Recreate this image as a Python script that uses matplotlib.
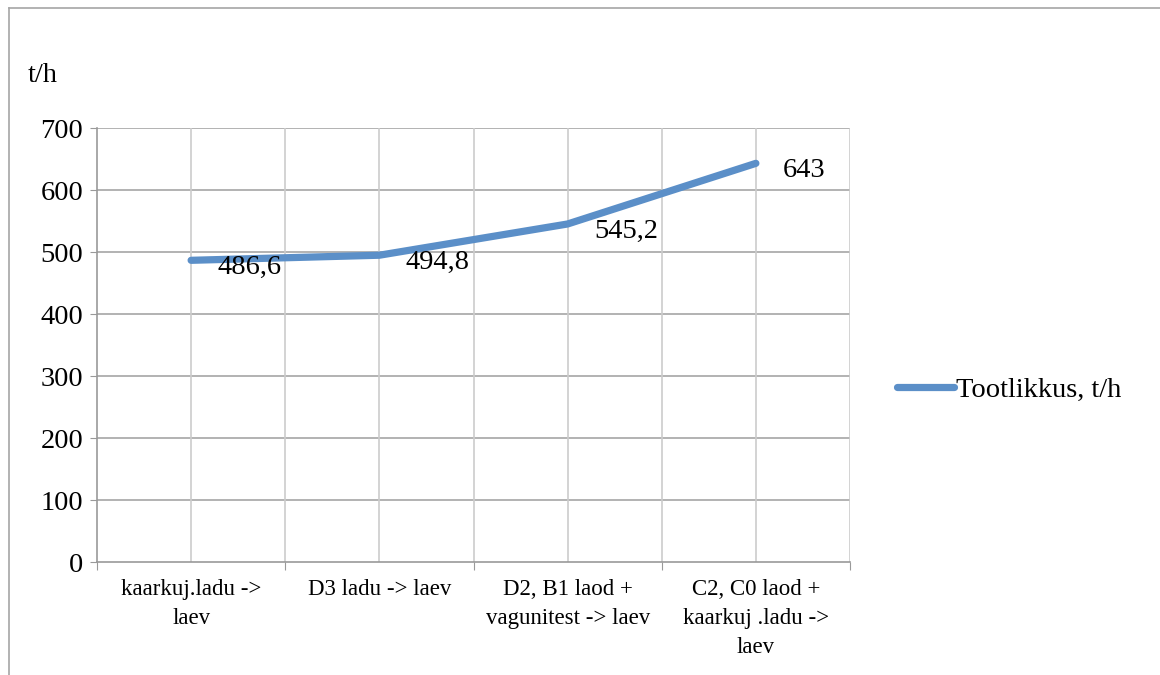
import matplotlib
matplotlib.use("Agg")
import matplotlib.pyplot as plt
from matplotlib.lines import Line2D
import numpy as np

categories = ["kaarkuj.ladu ->\nlaev", "D3 ladu -> laev",
              "D2, B1 laod +\nvagunitest -> laev",
              "C2, C0 laod +\nkaarkuj .ladu ->\nlaev"]
values = [486.6, 494.8, 545.2, 643]
value_labels = ["486,6", "494,8", "545,2", "643"]
yticks = [0, 100, 200, 300, 400, 500, 600, 700]
series_name = "Tootlikkus, t/h"

plt.rcParams['font.family'] = ['Liberation Serif', 'DejaVu Serif']

fig = plt.figure(figsize=(11.6, 6.75), dpi=100)
ax = fig.add_axes([97 / 1160, 1 - 562 / 675, 753 / 1160, 434 / 675])

blue = "#5b8fc8"
big = 20.5
x = np.arange(len(values))
ax.plot(x, values, color=blue, lw=5.2, solid_capstyle='round',
        solid_joinstyle='round', label=series_name, zorder=3)

for xi, v, t in zip(x, values, value_labels):
    ax.annotate(t, (xi, v), xytext=(19, -5), textcoords='offset points',
                ha='left', va='center', fontsize=big, zorder=4)

ax.set_xlim(-0.5, len(values) - 0.5)
ax.set_ylim(0, 700)
ax.set_yticks(yticks)
ax.tick_params(axis='y', labelsize=big, length=5, color='#999999', pad=5)

# ticks at category boundaries, labels at centres
ax.set_xticks(np.arange(-0.5, len(values), 1.0))
ax.set_xticklabels([])
ax.set_xticks(x, minor=True)
ax.set_xticklabels(categories, minor=True, fontsize=16.5, linespacing=1.5)
ax.tick_params(axis='x', which='major', length=6, color='#999999')
ax.tick_params(axis='x', which='minor', length=0, pad=12)

for yv in yticks[1:]:
    ax.axhline(yv, color='#a6a6a6', lw=1.2, zorder=1)
for xv in np.arange(-0.5, len(values), 0.5)[1:]:
    ax.axvline(xv, color='#cccccc', lw=1.2, zorder=1)

for s in ['top', 'right']:
    ax.spines[s].set_visible(False)
for s in ['left', 'bottom']:
    ax.spines[s].set_color('#999999')
    ax.spines[s].set_linewidth(1.2)

fig.text(28 / 1160, 1 - 75 / 675, "t/h", fontsize=big, va='center', ha='left')

leg = fig.legend(loc='center left', bbox_to_anchor=(886 / 1160, 1 - 390 / 675),
                 frameon=False, fontsize=big, handlelength=2.0, handletextpad=0.05,
                 borderaxespad=0)

# outer chart frame (cut by image edges)
fig.add_artist(Line2D([9 / 1160, 9 / 1160], [0, 1 - 8 / 675],
                      transform=fig.transFigure, color='#a6a6a6', lw=1.2))
fig.add_artist(Line2D([9 / 1160, 1], [1 - 8 / 675, 1 - 8 / 675],
                      transform=fig.transFigure, color='#a6a6a6', lw=1.2))

fig.savefig("out.png", dpi=100)
